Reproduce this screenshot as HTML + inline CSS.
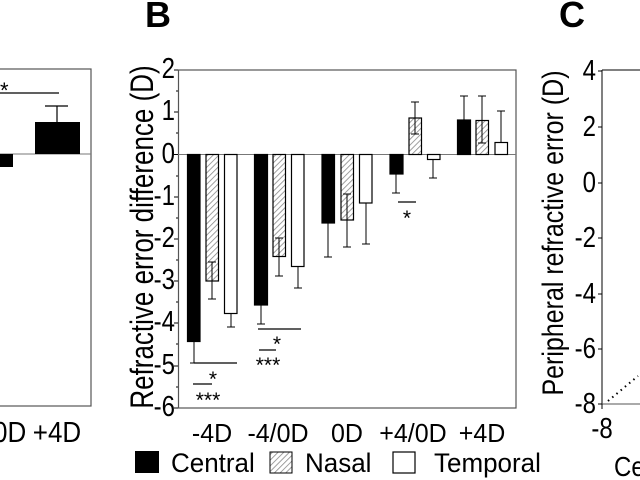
<!DOCTYPE html>
<html><head><style>body{margin:0;background:#fff}svg{display:block}text{font-family:"Liberation Sans",sans-serif;fill:#000}</style></head>
<body>
<svg width="640" height="480" viewBox="0 0 640 480">
<defs><pattern id="h" width="4" height="4" patternUnits="userSpaceOnUse" patternTransform="rotate(45)"><rect width="4" height="4" fill="#fff"/><line x1="0" y1="0" x2="0" y2="4" stroke="#888" stroke-width="1.6"/></pattern></defs>
<!-- Panel A partial -->
<rect x="-2" y="69" width="93" height="337" fill="none" stroke="#555" stroke-width="1.2"/>
<line x1="0" y1="154" x2="91" y2="154" stroke="#777"/>
<rect x="0" y="154" width="13" height="13" fill="#000"/>
<rect x="35" y="122" width="45" height="32" fill="#000"/>
<line x1="57" y1="106" x2="57" y2="122" stroke="#000" stroke-width="1.2"/>
<line x1="45" y1="106" x2="68" y2="106" stroke="#000" stroke-width="1.2"/>
<line x1="0" y1="93" x2="59" y2="93" stroke="#000" stroke-width="1.2"/>
<text x="0" y="98" font-size="22">*</text>
<g transform="translate(0,442) scale(1,1.1)" font-size="26"><text x="57" y="0" text-anchor="middle">+4D</text><text x="-7" y="0">0D</text></g>
<!-- Panel B -->
<text x="158" y="27" font-size="36" font-weight="bold" text-anchor="middle">B</text>
<rect x="178.5" y="70" width="337.5" height="338" fill="none" stroke="#555" stroke-width="1.2"/>
<g stroke="#000" stroke-width="1">
<line x1="174" y1="70" x2="178" y2="70"/><line x1="176" y1="91" x2="178" y2="91"/>
<line x1="174" y1="112" x2="178" y2="112"/><line x1="176" y1="133" x2="178" y2="133"/>
<line x1="174" y1="154.5" x2="178" y2="154.5"/><line x1="176" y1="176" x2="178" y2="176"/>
<line x1="174" y1="197" x2="178" y2="197"/><line x1="176" y1="218" x2="178" y2="218"/>
<line x1="174" y1="239" x2="178" y2="239"/><line x1="176" y1="260" x2="178" y2="260"/>
<line x1="174" y1="281" x2="178" y2="281"/><line x1="176" y1="302" x2="178" y2="302"/>
<line x1="174" y1="323" x2="178" y2="323"/><line x1="176" y1="344" x2="178" y2="344"/>
<line x1="174" y1="366" x2="178" y2="366"/><line x1="176" y1="387" x2="178" y2="387"/>
<line x1="174" y1="408" x2="178" y2="408"/>
</g>
<g font-size="24" text-anchor="end">
<g transform="translate(175,78) scale(1,1.18)"><text>2</text></g>
<g transform="translate(175,120) scale(1,1.18)"><text>1</text></g>
<g transform="translate(175,163) scale(1,1.18)"><text>0</text></g>
<g transform="translate(175,205) scale(1,1.18)"><text>-1</text></g>
<g transform="translate(175,247) scale(1,1.18)"><text>-2</text></g>
<g transform="translate(175,289) scale(1,1.18)"><text>-3</text></g>
<g transform="translate(175,331) scale(1,1.18)"><text>-4</text></g>
<g transform="translate(175,374) scale(1,1.18)"><text>-5</text></g>
<g transform="translate(175,416) scale(1,1.18)"><text>-6</text></g>
</g>
<g transform="translate(153,237) rotate(-90) scale(1,1.25)"><text font-size="26" text-anchor="middle">Refractive error difference (D)</text></g>
<line x1="178" y1="154.5" x2="516" y2="154.5" stroke="#777"/>
<g stroke="#000" stroke-width="1.2">
<rect x="187.5" y="154.5" width="12.5" height="187" fill="#000"/>
<rect x="206" y="154.5" width="12.5" height="126.5" fill="url(#h)"/>
<rect x="224.5" y="154.5" width="12.5" height="159" fill="#fff"/>
<rect x="254.5" y="154.5" width="13" height="150.5" fill="#000"/>
<rect x="273" y="154.5" width="12.5" height="102" fill="url(#h)"/>
<rect x="291.5" y="154.5" width="12.5" height="112" fill="#fff"/>
<rect x="322" y="154.5" width="12.5" height="68.5" fill="#000"/>
<rect x="341" y="154.5" width="12.5" height="65.5" fill="url(#h)"/>
<rect x="359.5" y="154.5" width="12.5" height="48.5" fill="#fff"/>
<rect x="390" y="154.5" width="13" height="19.5" fill="#000"/>
<rect x="409" y="118" width="12.5" height="36.5" fill="url(#h)"/>
<rect x="427.5" y="154.5" width="12.5" height="5" fill="#fff"/>
<rect x="457.5" y="120" width="13" height="34.5" fill="#000"/>
<rect x="476" y="120.5" width="12.5" height="34" fill="url(#h)"/>
<rect x="495" y="142.5" width="12.5" height="12" fill="#fff"/>
</g>
<g stroke="#000" stroke-width="1" fill="none">
<path d="M194 341v22M190 363h8"/>
<path d="M212 281v-19M208 262h8M212 281v18M208 299h8"/>
<path d="M231 313v14M227 327h8"/>
<path d="M261 305v19M257 324h8"/>
<path d="M279 257v-19M275 238h8M279 257v19M275 276h8"/>
<path d="M298 267v21M294 288h8"/>
<path d="M328 223v34M324 257h8"/>
<path d="M347 220v-26M343 194h8M347 220v27M343 247h8"/>
<path d="M366 203v41M362 244h8"/>
<path d="M396 174v19M392 193h8"/>
<path d="M415 118v-16M411 102h8M415 118v16M411 134h8"/>
<path d="M433 160v18M429 178h8"/>
<path d="M464 120v-24M460 96h8"/>
<path d="M482 120v-24M478 96h8M482 120v23M478 143h8"/>
<path d="M501 142v-31M497 111h8"/>
</g>
<g stroke="#000" stroke-width="1.2">
<line x1="194" y1="363" x2="237" y2="363"/><line x1="193" y1="384" x2="212" y2="384"/>
<line x1="258" y1="329" x2="301" y2="329"/><line x1="259" y1="350" x2="276" y2="350"/>
<line x1="398" y1="202" x2="416" y2="202"/>
</g>
<g font-size="21" text-anchor="middle">
<text x="213" y="386">*</text><text x="208" y="407">***</text>
<text x="277" y="351">*</text><text x="268" y="372">***</text>
<text x="407" y="225">*</text>
</g>
<g font-size="25" text-anchor="middle">
<g transform="translate(212,442) scale(1,1.05)"><text>-4D</text></g>
<g transform="translate(278,442) scale(1,1.05)"><text>-4/0D</text></g>
<g transform="translate(347,442) scale(1,1.05)"><text>0D</text></g>
<g transform="translate(413,442) scale(1,1.05)"><text>+4/0D</text></g>
<g transform="translate(482,442) scale(1,1.05)"><text>+4D</text></g>
</g>
<rect x="135" y="451" width="24" height="22" fill="#000"/>
<g transform="translate(171,472) scale(1,1.05)"><text font-size="26">Central</text></g>
<rect x="270" y="452" width="22" height="21" fill="url(#h)" stroke="#000"/>
<g transform="translate(305,472) scale(1,1.05)"><text font-size="26">Nasal</text></g>
<rect x="393" y="452" width="22" height="21" fill="#fff" stroke="#000" stroke-width="1.2"/>
<g transform="translate(434,472) scale(1,1.05)"><text font-size="26">Temporal</text></g>
<!-- Panel C -->
<text x="572" y="27" font-size="36" font-weight="bold" text-anchor="middle">C</text>
<line x1="602" y1="70" x2="640" y2="70" stroke="#000"/>
<line x1="602" y1="70" x2="602" y2="404" stroke="#000"/>
<line x1="602" y1="404" x2="640" y2="404" stroke="#555"/>
<g stroke="#000"><line x1="598" y1="71" x2="602" y2="71"/><line x1="598" y1="127" x2="602" y2="127"/><line x1="598" y1="183" x2="602" y2="183"/><line x1="598" y1="238" x2="602" y2="238"/><line x1="598" y1="294" x2="602" y2="294"/><line x1="598" y1="349" x2="602" y2="349"/><line x1="598" y1="404" x2="602" y2="404"/><line x1="602" y1="404" x2="602" y2="409"/></g>
<g font-size="24" text-anchor="end">
<g transform="translate(596,80) scale(1,1.18)"><text>4</text></g>
<g transform="translate(596,136) scale(1,1.18)"><text>2</text></g>
<g transform="translate(596,192) scale(1,1.18)"><text>0</text></g>
<g transform="translate(596,247) scale(1,1.18)"><text>-2</text></g>
<g transform="translate(596,303) scale(1,1.18)"><text>-4</text></g>
<g transform="translate(596,358) scale(1,1.18)"><text>-6</text></g>
<g transform="translate(596,413) scale(1,1.18)"><text>-8</text></g>
</g>
<g transform="translate(602,438) scale(1,1.18)"><text font-size="24" text-anchor="middle">-8</text></g>
<g transform="translate(614,476) scale(1,1.15)"><text font-size="24">Ce</text></g>
<g transform="translate(563,233) rotate(-90) scale(1,1.2)"><text font-size="25" text-anchor="middle">Peripheral refractive error (D)</text></g>
<line x1="608" y1="401" x2="638" y2="376" stroke="#000" stroke-width="2" stroke-dasharray="1.5,4"/>
</svg>
</body></html>
